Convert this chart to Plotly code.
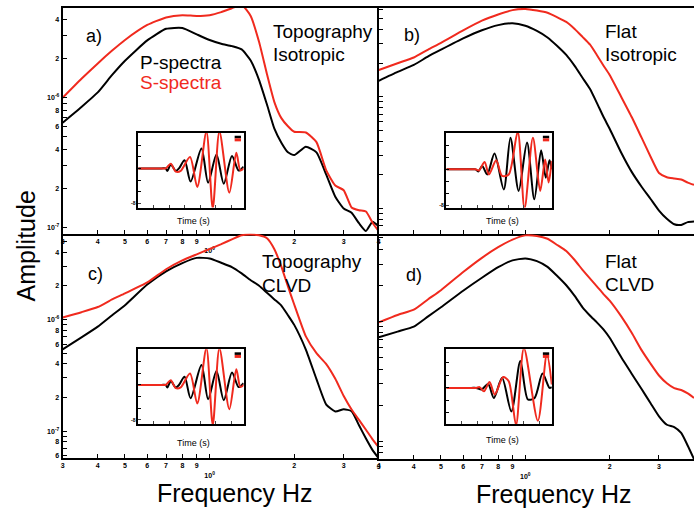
import math
import plotly.graph_objects as go

W, H = 696, 509

# ---------------- data ----------------
freq = [0.3, 0.35, 0.4, 0.45, 0.5, 0.6, 0.7, 0.8, 0.9, 1.0, 1.1, 1.2, 1.3, 1.4, 1.5,
        1.6, 1.7, 1.8, 1.9, 2.0, 2.2, 2.4, 2.6, 2.8, 3.0, 3.2, 3.4, 3.6, 3.8, 4.0]

a_p = [6.43e-7, 8.5e-7, 1.10e-6, 1.50e-6, 1.93e-6, 2.77e-6, 3.40e-6, 3.45e-6, 3.08e-6, 2.79e-6,
       2.61e-6, 2.50e-6, 2.36e-6, 1.94e-6, 1.37e-6, 8.87e-7, 5.78e-7, 4.51e-7, 3.80e-7, 3.62e-7,
       4.20e-7, 3.80e-7, 2.56e-7, 1.73e-7, 1.40e-7, 1.30e-7, 1.08e-7, 9.4e-8, 1.11e-7, 1.02e-7]
a_s = [1.00e-6, 1.40e-6, 1.84e-6, 2.31e-6, 2.79e-6, 3.64e-6, 4.16e-6, 4.33e-6, 4.27e-6, 4.33e-6,
       4.57e-6, 4.90e-6, 5.20e-6, 4.27e-6, 2.69e-6, 1.52e-6, 9.27e-7, 6.97e-7, 6.03e-7, 5.47e-7,
       5.40e-7, 4.55e-7, 2.76e-7, 2.11e-7, 1.94e-7, 1.43e-7, 1.36e-7, 1.33e-7, 1.09e-7, 9.35e-8]

b_p = [1.39e-6, 1.67e-6, 1.93e-6, 2.30e-6, 2.64e-6, 3.33e-6, 3.94e-6, 4.38e-6, 4.55e-6, 4.33e-6,
       3.89e-6, 3.40e-6, 2.85e-6, 2.37e-6, 1.89e-6, 1.48e-6, 1.18e-6, 8.84e-7, 6.63e-7, 5.18e-7,
       3.16e-7, 2.12e-7, 1.57e-7, 1.22e-7, 9.6e-8, 8.1e-8, 7.24e-8, 7.15e-8, 7.57e-8, 7.65e-8]
b_s = [1.74e-6, 2.0e-6, 2.25e-6, 2.65e-6, 3.04e-6, 3.93e-6, 4.80e-6, 5.46e-6, 5.97e-6, 6.11e-6,
       5.91e-6, 5.65e-6, 5.15e-6, 4.68e-6, 4.05e-6, 3.44e-6, 2.94e-6, 2.37e-6, 1.91e-6, 1.57e-6,
       9.98e-7, 6.56e-7, 4.31e-7, 2.91e-7, 2.08e-7, 1.91e-7, 1.86e-7, 1.82e-7, 1.71e-7, 1.63e-7]

c_p = [5.40e-7, 6.90e-7, 8.61e-7, 1.09e-6, 1.34e-6, 2.05e-6, 2.69e-6, 3.19e-6, 3.55e-6, 3.51e-6,
       3.21e-6, 2.94e-6, 2.58e-6, 2.24e-6, 2.0e-6, 1.73e-6, 1.51e-6, 1.33e-6, 1.09e-6, 8.93e-7,
       5.37e-7, 2.92e-7, 1.73e-7, 1.50e-7, 1.57e-7, 1.51e-7, 1.13e-7, 8.59e-8, 6.76e-8, 5.69e-8]
c_s = [1.04e-6, 1.16e-6, 1.29e-6, 1.51e-6, 1.71e-6, 2.14e-6, 2.81e-6, 3.37e-6, 3.82e-6, 4.26e-6,
       4.71e-6, 5.20e-6, 5.66e-6, 5.74e-6, 5.65e-6, 5.31e-6, 4.24e-6, 2.97e-6, 1.97e-6, 1.36e-6,
       7.05e-7, 4.99e-7, 3.98e-7, 2.94e-7, 2.06e-7, 1.56e-7, 1.26e-7, 1.03e-7, 8.45e-8, 7.15e-8]

d_p = [7.36e-7, 8.21e-7, 9.03e-7, 1.10e-6, 1.31e-6, 1.80e-6, 2.31e-6, 2.83e-6, 3.23e-6, 3.35e-6,
       3.18e-6, 2.85e-6, 2.39e-6, 2.0e-6, 1.63e-6, 1.31e-6, 1.12e-6, 9.81e-7, 8.58e-7, 7.29e-7,
       5.01e-7, 3.64e-7, 2.72e-7, 2.07e-7, 1.61e-7, 1.37e-7, 1.31e-7, 1.17e-7, 9.16e-8, 7.08e-8]
d_s = [9.81e-7, 1.13e-6, 1.25e-6, 1.53e-6, 1.82e-6, 2.58e-6, 3.39e-6, 4.16e-6, 4.81e-6, 5.22e-6,
       5.16e-6, 4.89e-6, 4.34e-6, 3.86e-6, 3.25e-6, 2.69e-6, 2.28e-6, 1.96e-6, 1.69e-6, 1.49e-6,
       1.10e-6, 7.99e-7, 5.75e-7, 4.43e-7, 3.53e-7, 3.04e-7, 2.77e-7, 2.67e-7, 2.50e-7, 2.29e-7]

# inset waveforms (time, amplitude) – extrema
ac_p_t = [0, 1.5, 1.77, 1.88, 2.10, 2.42, 2.63, 2.99, 3.38, 4.08, 4.51, 5.05, 5.52, 6.05, 6.48, 6.80]
ac_p_v = [0, 0, 0, -0.07, 0.11, -0.07, 0.0, 0.23, -0.37, 0.56, -0.40, 0.39, -0.43, 0.35, -0.06, 0.05]
ac_s_t = [0, 1.5, 1.77, 2.10, 2.42, 2.74, 3.34, 3.81, 4.40, 4.81, 5.24, 5.88, 6.33, 6.59, 6.80]
ac_s_v = [0, 0, 0, 0.13, -0.09, -0.07, 0.32, -0.52, 1.03, -1.12, 1.03, -0.68, 0.44, -0.06, 0.0]

b_p_t = [0, 1.6, 1.88, 2.05, 2.31, 2.63, 3.10, 3.70, 4.13, 4.66, 5.20, 5.67, 6.11, 6.41, 6.65, 6.80]
b_p_v = [0, 0, 0, -0.06, 0.09, -0.14, 0.43, -0.55, 0.86, -0.59, 0.73, -0.82, 0.52, -0.23, 0.25, 0]
b_s_t = [0, 1.6, 1.88, 2.10, 2.46, 2.74, 3.21, 3.59, 4.02, 4.60, 5.04, 5.58, 6.05, 6.37, 6.59, 6.80]
b_s_v = [0, 0, 0, -0.03, 0.20, -0.14, 0.25, -0.18, -0.14, 1.03, -1.07, 0.86, -0.59, 0.27, -0.36, 0.23]

d_p_t = [0, 1.6, 1.92, 2.27, 2.69, 3.06, 3.59, 4.19, 4.77, 5.26, 5.69, 6.20, 6.65, 6.80]
d_p_v = [0, 0, 0, -0.04, 0.10, -0.26, 0.26, -0.61, 0.70, -0.30, -0.26, 0.37, 0, 0.02]
d_s_t = [0, 1.6, 1.92, 2.14, 2.42, 2.78, 3.12, 3.66, 4.02, 4.49, 5.00, 5.90, 6.48, 6.80]
d_s_v = [0, 0, 0, 0.02, -0.09, 0.15, -0.17, 0.28, 0.17, -0.96, 1.03, -0.85, 0.87, 0.09]

xtick_vals = [0.3, 0.4, 0.5, 0.6, 0.7, 0.8, 0.9, 1, 2, 3, 4]
xtick_text = ["3", "4", "5", "6", "7", "8", "9", "<br>10<sup>0</sup>", "2", "3", "4"]

RED = "#f02a1e"
BLACK = "#000000"
FONT = "Liberation Sans, Arial, sans-serif"

# ---------------- helpers ----------------
def dx(p):
    return p / W

def dy(p):
    return 1 - p / H

def ytick_set(lo_exp, hi_exp):
    vals, text, minor = [], [], []
    for e in range(lo_exp, hi_exp + 1):
        for m in range(1, 10):
            v = m * 10.0 ** e
            if m == 1:
                vals.append(v)
                text.append("10<sup>%d</sup>" % e)
            elif m % 2 == 0:
                vals.append(v)
                text.append(str(m))
            else:
                minor.append(v)
    return vals, text, minor

yv, yt, ym = ytick_set(-8, -6)

fig = go.Figure()

panels = [
    # name, xaxis, yaxis, P, S, xdom(px), ydom(px), yrange(log10), showx, showy
    ("a", "x", "y", a_p, a_s, (61, 379), (8, 234), (-7.046, -5.308), True, True),
    ("b", "x2", "y2", b_p, b_s, (379, 696), (8, 234), (-7.223, -5.205), False, False),
    ("c", "x3", "y3", c_p, c_s, (61, 379), (234, 459), (-7.241, -5.232), True, True),
    ("d", "x4", "y4", d_p, d_s, (379, 696), (234, 460), (-7.15, -5.267), True, False),
]

tickfont = dict(family=FONT, size=7, color="black", weight="bold")

for i, (nm, xa, ya, P, S, xd, yd, yr, showx, showy) in enumerate(panels):
    fig.add_trace(go.Scatter(x=freq, y=P, xaxis=xa, yaxis=ya, mode="lines",
                             line=dict(color=BLACK, width=2, shape="spline", smoothing=0.5),
                             showlegend=False, hoverinfo="skip"))
    fig.add_trace(go.Scatter(x=freq, y=S, xaxis=xa, yaxis=ya, mode="lines",
                             line=dict(color=RED, width=2, shape="spline", smoothing=0.5),
                             showlegend=False, hoverinfo="skip"))
    k = "" if i == 0 else str(i + 1)
    fig.layout["xaxis" + k] = dict(
        type="log", domain=[dx(xd[0]), dx(xd[1])], range=[math.log10(0.3), math.log10(4)],
        anchor=ya, showline=True, linecolor="black", linewidth=2,
        mirror=(i < 2),
        ticks="inside", ticklen=4, tickwidth=1.2, tickcolor="black",
        tickvals=xtick_vals, ticktext=xtick_text, showticklabels=showx,
        tickfont=tickfont, showgrid=False, zeroline=False, fixedrange=True)
    fig.layout["yaxis" + k] = dict(
        type="log", domain=[dy(yd[1]), dy(yd[0])], range=list(yr),
        anchor=xa, showline=True, linecolor="black", linewidth=2, mirror=False,
        ticks="inside", ticklen=4, tickwidth=1.2, tickcolor="black",
        tickvals=yv, ticktext=yt, showticklabels=showy,
        minor=dict(tickmode="array", tickvals=ym, ticks="inside", ticklen=4,
                   tickwidth=1.2, tickcolor="black", showgrid=False),
        tickfont=tickfont, showgrid=False, zeroline=False, fixedrange=True)

insets = [
    ("x5", "y5", ac_p_t, ac_p_v, ac_s_t, ac_s_v, (137, 243), (133, 208), (-1.10, 1.0), 221),
    ("x6", "y6", b_p_t, b_p_v, b_s_t, b_s_v, (447, 553), (133, 208), (-1.045, 1.0), 221),
    ("x7", "y7", ac_p_t, ac_p_v, ac_s_t, ac_s_v, (137, 243), (350, 425), (-1.10, 1.0), 444),
    ("x8", "y8", d_p_t, d_p_v, d_s_t, d_s_v, (447, 553), (350, 425), (-0.94, 1.0), 441),
]

annotations = []
shapes = []
for j, (xa, ya, pt, pv, st, sv, xd, yd, yr, ty) in enumerate(insets):
    fig.add_trace(go.Scatter(x=pt, y=pv, xaxis=xa, yaxis=ya, mode="lines",
                             line=dict(color=BLACK, width=2, shape="spline", smoothing=0.8),
                             showlegend=False, hoverinfo="skip"))
    fig.add_trace(go.Scatter(x=st, y=sv, xaxis=xa, yaxis=ya, mode="lines",
                             line=dict(color=RED, width=2, shape="spline", smoothing=0.8),
                             showlegend=False, hoverinfo="skip"))
    k = str(j + 5)
    fig.layout["xaxis" + k] = dict(
        domain=[dx(xd[0]), dx(xd[1])], range=[0, 6.8], anchor=ya,
        showline=True, linecolor="black", linewidth=1.5, mirror=True,
        ticks="inside", ticklen=3, tickwidth=1, tickvals=[1, 2, 3, 4, 5, 6],
        showticklabels=False, showgrid=False, zeroline=False, fixedrange=True)
    fig.layout["yaxis" + k] = dict(
        domain=[dy(yd[1]), dy(yd[0])], range=list(yr), anchor=xa,
        showline=True, linecolor="black", linewidth=1.5, mirror=True,
        ticks="inside", ticklen=3, tickwidth=1,
        tickvals=[-0.98], ticktext=["-8"], showticklabels=True,
        minor=dict(tickmode="array", tickvals=[-0.65, -0.33, 0, 0.33, 0.65, 0.98],
                   ticks="inside", ticklen=3, tickwidth=1, tickcolor="black", showgrid=False),
        tickfont=dict(family=FONT, size=5, color="black", weight="bold"),
        showgrid=False, zeroline=False, fixedrange=True)
    # tiny legend marks
    shapes.append(dict(type="rect", xref=xa + " domain", yref=ya + " domain",
                       x0=0.915, x1=0.975, y0=0.925, y1=0.96,
                       fillcolor=BLACK, line=dict(width=0)))
    shapes.append(dict(type="rect", xref=xa + " domain", yref=ya + " domain",
                       x0=0.915, x1=0.975, y0=0.885, y1=0.925,
                       fillcolor=RED, line=dict(width=0)))
    annotations.append(dict(text="Time (s)", x=dx((xd[0] + xd[1]) / 2 + 3), y=dy(ty),
                            xref="paper", yref="paper", showarrow=False,
                            font=dict(family=FONT, size=9, color="black"),
                            xanchor="center", yanchor="middle"))

def txt(s, x, y, size=19, color="black", anchor="left", angle=0):
    annotations.append(dict(text=s, x=dx(x), y=dy(y), xref="paper", yref="paper",
                            showarrow=False, xanchor=anchor, yanchor="middle",
                            textangle=angle,
                            font=dict(family=FONT, size=size, color=color)))

txt("a)", 82, 36, size=18)
txt("P-spectra", 137, 63)
txt("S-spectra", 137, 83, color=RED)
txt("Topography", 271, 32)
txt("Isotropic", 271, 55)

txt("b)", 402, 35, size=18)
txt("Flat", 604, 32)
txt("Isotropic", 604, 55)

txt("c)", 84, 275, size=18)
txt("Topography", 259, 262)
txt("CLVD", 259, 286)

txt("d)", 404, 276, size=18)
txt("Flat", 604, 262)
txt("CLVD", 604, 285)

txt("Amplitude", 24, 246, size=25, anchor="center", angle=-90)
txt("Frequency Hz", 234, 494, size=25, anchor="center")
txt("Frequency Hz", 555, 495, size=25, anchor="center")

fig.update_layout(
    width=W, height=H, margin=dict(l=0, r=0, t=0, b=0),
    paper_bgcolor="white", plot_bgcolor="rgba(0,0,0,0)",
    annotations=annotations, shapes=shapes, showlegend=False,
    font=dict(family=FONT),
)

fig.write_html("out.html")
